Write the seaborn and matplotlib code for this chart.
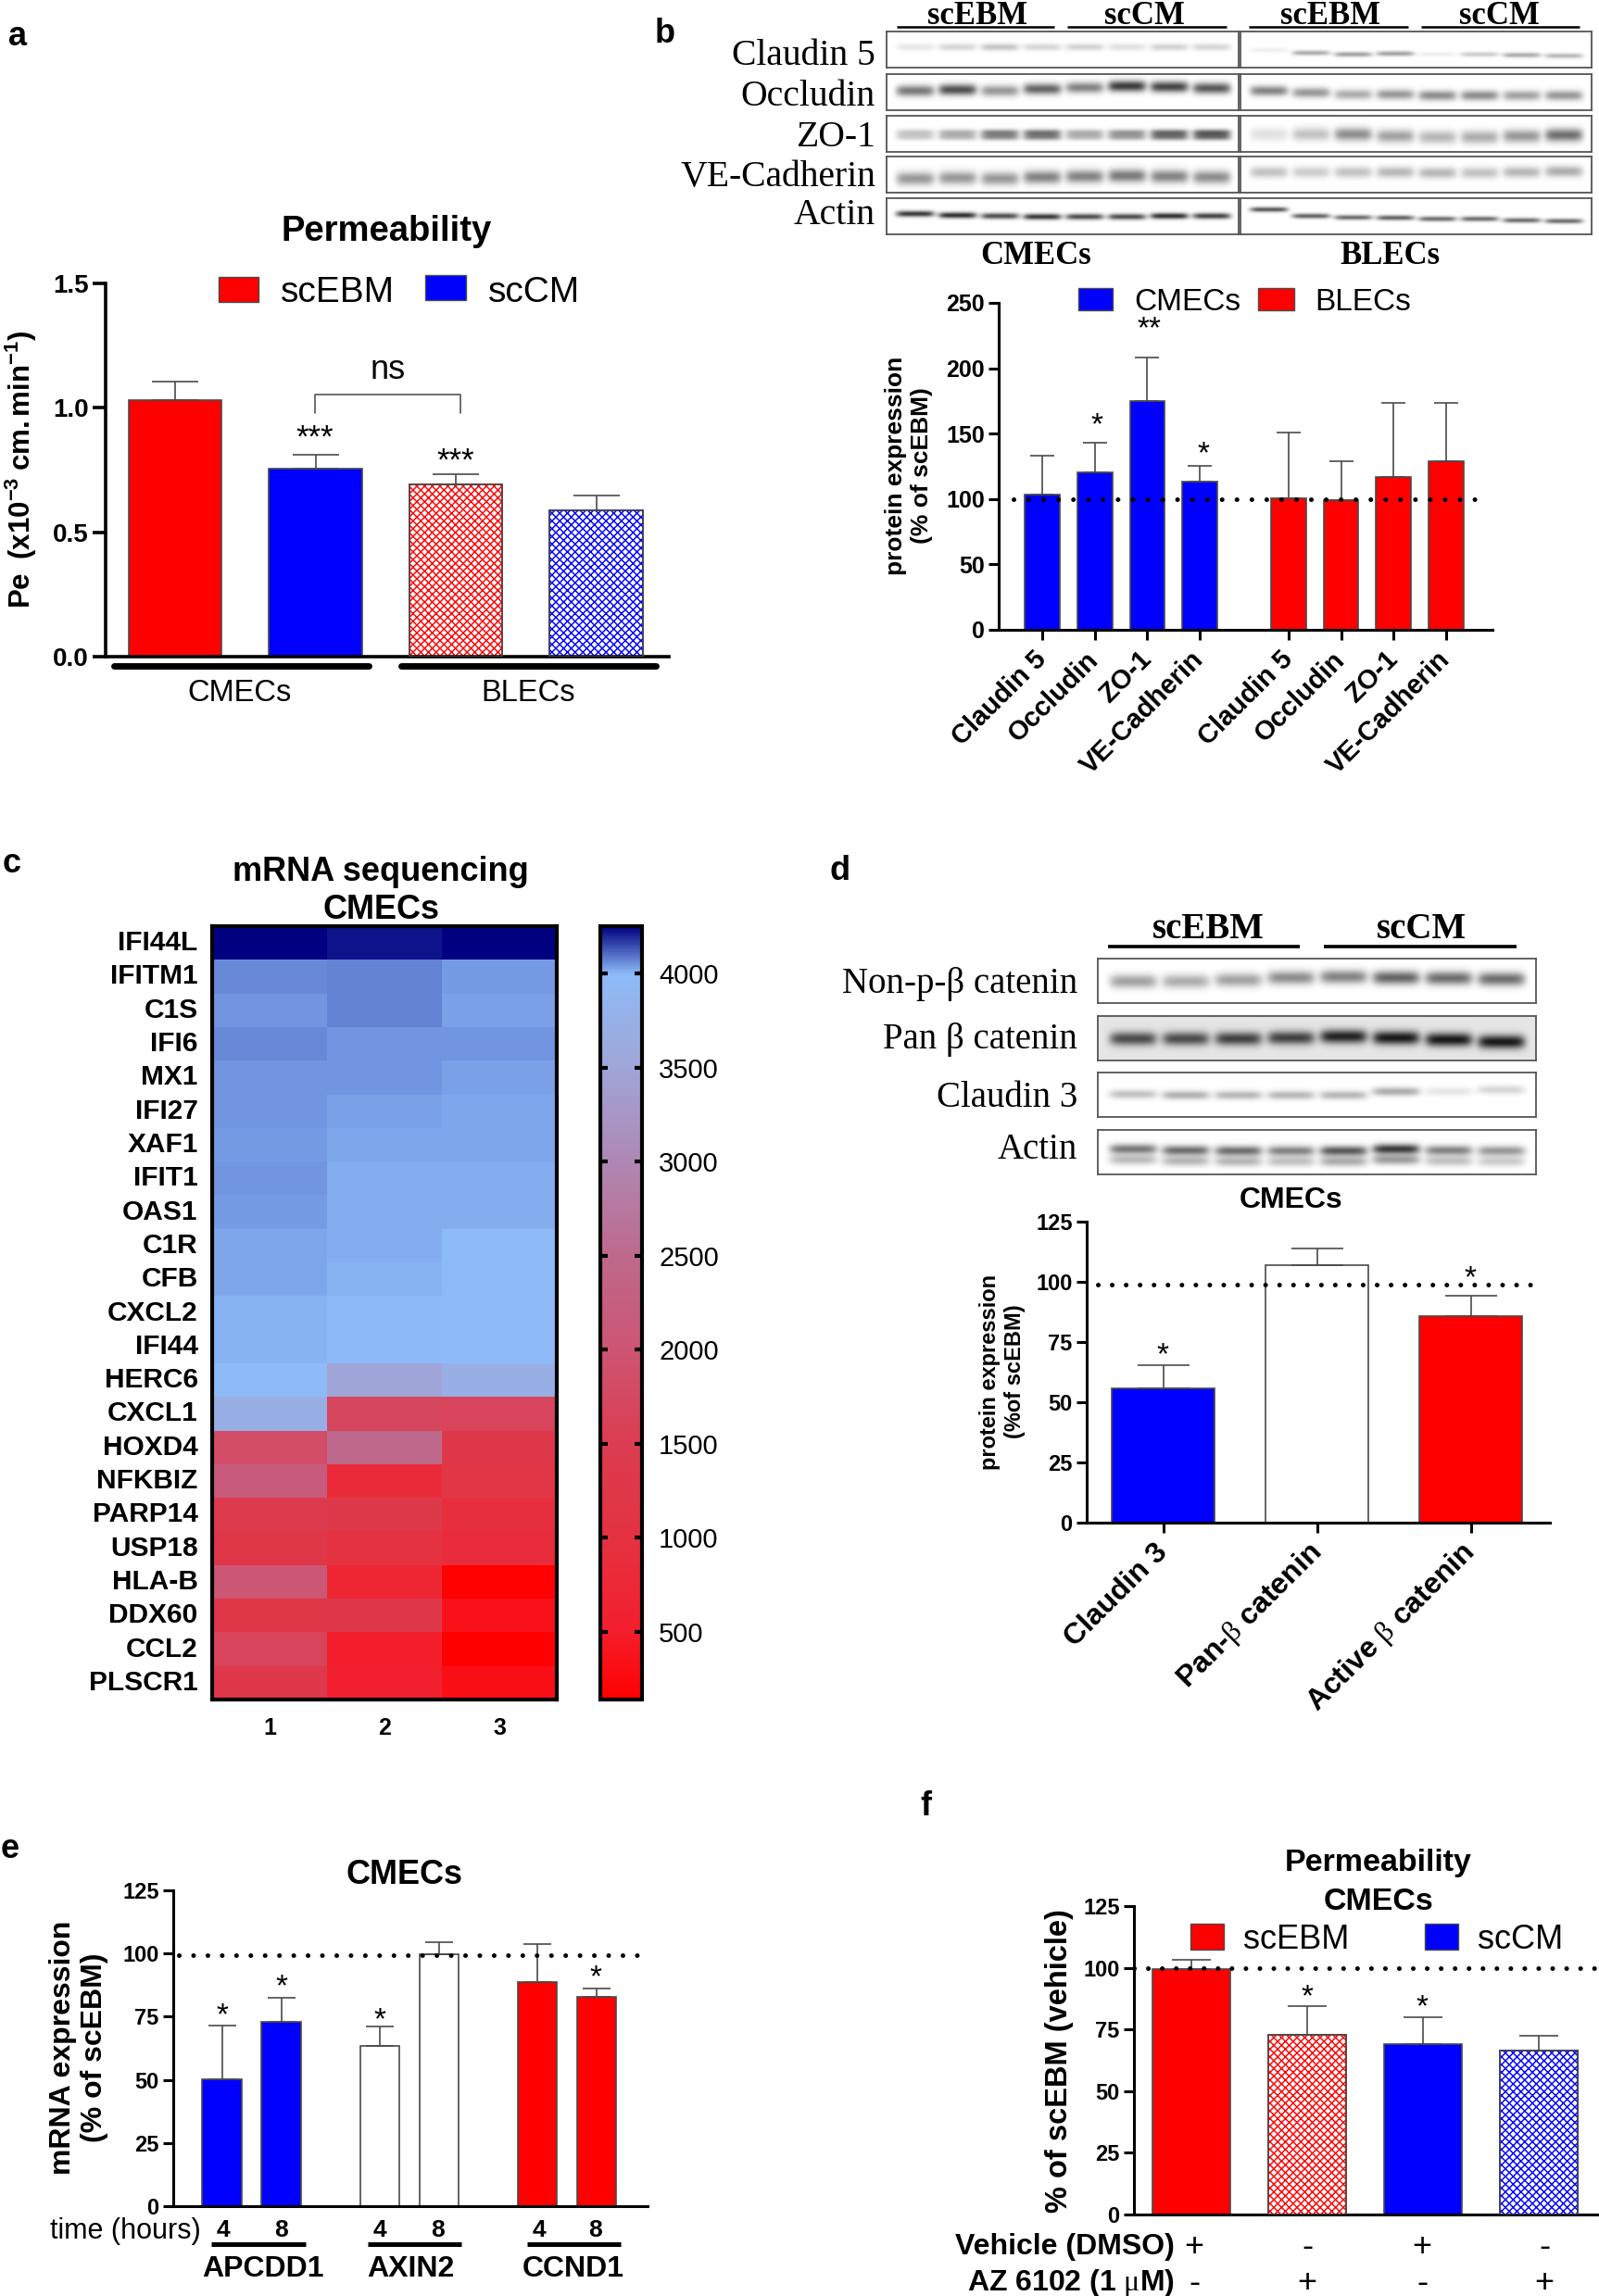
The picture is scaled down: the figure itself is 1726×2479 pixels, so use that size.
import numpy as np
import pandas as pd
import matplotlib.pyplot as plt
from matplotlib.colors import LinearSegmentedColormap
from matplotlib.patches import Rectangle
import seaborn as sns

W, H = 1726, 2479
RED, BLUE, WHITE = "#ff0000", "#0000ff", "#ffffff"
EDGE = "#4a4a4a"

# panel a
a_values = [1.03, 0.757, 0.693, 0.588]
a_errors = [0.075, 0.055, 0.041, 0.058]
a_ticks = [0.0, 0.5, 1.0, 1.5]

# panel b
b_labels = ["Claudin 5", "Occludin", "ZO-1", "VE-Cadherin"] * 2
b_values = [103.4, 120.5, 175, 113, 100.7, 99.5, 116.6, 129]
b_errors = [30, 22.5, 33, 12, 49.8, 29.5, 57.1, 44.7]
b_ticks = [0, 50, 100, 150, 200, 250]

# panel c
genes = ["IFI44L", "IFITM1", "C1S", "IFI6", "MX1", "IFI27", "XAF1", "IFIT1", "OAS1", "C1R", "CFB",
         "CXCL2", "IFI44", "HERC6", "CXCL1", "HOXD4", "NFKBIZ", "PARP14", "USP18", "HLA-B",
         "DDX60", "CCL2", "PLSCR1"]
sample_1 = [4250, 4065, 4050, 4065, 4045, 4050, 4040, 4045, 4040, 4025, 4025, 4005, 4005,
            3985, 3720, 1850, 2150, 1400, 1250, 2050, 1250, 1650, 1300]
sample_2 = [4220, 4070, 4075, 4045, 4050, 4030, 4020, 4015, 4015, 4015, 4010, 3995, 3995,
            3500, 1700, 2500, 800, 1350, 1000, 700, 1300, 500, 550]
sample_3 = [4250, 4040, 4030, 4050, 4035, 4025, 4020, 4015, 4015, 3990, 3990, 3985, 3985,
            3720, 1650, 1300, 1150, 900, 850, 150, 350, 140, 320]
c_ticks = [500, 1000, 1500, 2000, 2500, 3000, 3500, 4000]
c_scale_values = [139, 500, 1000, 1500, 2000, 2500, 3000, 3500, 4000, 4252]
c_scale_colors = ["#ff0000", "#f41e2c", "#e43241", "#dc3c50", "#cd5573", "#be698c",
                  "#af87b4", "#a0a5d7", "#8dbbf8", "#000080"]

# panel d
d_labels = ["Claudin 3", r"Pan-$\mathrm{\beta}$ catenin", r"Active $\mathrm{\beta}$ catenin"]
d_values = [55.7, 106.8, 85.9]
d_errors = [9.6, 7.2, 8.2]
d_ticks = [0, 25, 50, 75, 100, 125]

# panel e
e_hours = ["4", "8", "4", "8", "4", "8"]
e_genes = ["APCDD1", "AXIN2", "CCND1"]
e_values = [50.3, 72.9, 63.4, 99.8, 88.8, 82.8]
e_errors = [21.1, 9.4, 7.8, 4.7, 15.1, 3.5]

# panel f
f_values = [99.6, 72.8, 69.2, 66.5]
f_errors = [3.7, 11.7, 10.9, 5.8]
f_vehicle = ["+", "-", "+", "-"]
f_az6102 = ["-", "+", "-", "+"]

# western blots: band darkness and band height per lane
blot_b_rows = ["Claudin 5", "Occludin", "ZO-1", "VE-Cadherin", "Actin"]
blot_b_cmec = [[.12, .2, .28, .2, .22, .15, .22, .2],
               [.65, .85, .5, .75, .6, .95, .9, .8],
               [.25, .35, .55, .6, .35, .45, .65, .7],
               [.5, .5, .5, .6, .6, .65, .6, .55],
               [.95, 1, .85, .95, .85, .85, 1, .9]]
blot_b_blec = [[.08, .4, .45, .45, .08, .25, .4, .35],
               [.6, .5, .4, .5, .55, .55, .45, .5],
               [.15, .3, .55, .45, .35, .4, .5, .7],
               [.3, .25, .3, .35, .35, .3, .35, .4],
               [.8, .75, .7, .75, .7, .7, .7, .7]]
blot_b_cmec_y = [[.42] * 8, [.45, .42, .45, .4, .36, .32, .34, .38], [.45] * 8,
                 [.6, .58, .6, .56, .54, .52, .54, .56], [.42, .46, .48, .5, .5, .5, .48, .48]]
blot_b_blec_y = [[.5, .58, .62, .6, .62, .62, .64, .66], [.45, .5, .55, .55, .58, .58, .58, .58],
                 [.5, .5, .5, .55, .58, .58, .55, .52], [.42, .42, .42, .42, .44, .44, .42, .4],
                 [.3, .48, .52, .53, .56, .56, .6, .62]]
blot_d_rows = ["Non-p-β catenin", "Pan β catenin", "Claudin 3", "Actin"]
blot_d = [[.45, .4, .45, .55, .6, .75, .7, .7],
          [.75, .75, .8, .8, .95, 1, 1, 1],
          [.3, .38, .35, .35, .35, .4, .12, .2],
          [.65, .7, .7, .6, .8, .95, .6, .5]]
blot_d_y = [[.5, .5, .47, .42, .4, .42, .43, .45],
            [.5, .5, .5, .48, .45, .48, .52, .57],
            [.48, .5, .5, .5, .5, .42, .42, .38],
            [.42, .45, .46, .46, .46, .42, .45, .46]]

sns.set_style("white")
plt.rcParams["font.family"] = ["Liberation Sans", "DejaVu Sans"]
plt.rcParams["mathtext.fontset"] = "custom"
plt.rcParams["mathtext.rm"] = "Liberation Serif"
plt.rcParams["mathtext.it"] = "Liberation Serif:italic"
plt.rcParams["mathtext.bf"] = "Liberation Sans:bold"
plt.rcParams["hatch.linewidth"] = 1.05
plt.rcParams["text.color"] = "black"
plt.rcParams["xtick.color"] = "black"
plt.rcParams["ytick.color"] = "black"

fig = plt.figure(figsize=(W / 100, H / 100), dpi=100, facecolor="white")


def axes_px(left, top, right, bottom):
    return fig.add_axes([left / W, 1 - bottom / H, (right - left) / W, (bottom - top) / H])


def label(x, y, s, size, weight="normal", ha="center", family=None, rotation=0, shift=0.1, **kw):
    # y is where the glyphs should be centred, in pixels from the top
    y = y + shift * size * 100 / 72
    return fig.text(x / W, 1 - y / H, s, fontsize=size, fontweight=weight, ha=ha, va="center",
                    family=family or plt.rcParams["font.family"], rotation=rotation, **kw)


def star(x, y, s="*", size=24):
    label(x, y, s, size, shift=0.14)


def swatch(x0, y0, x1, y1, color):
    fig.add_artist(Rectangle((x0 / W, 1 - y1 / H), (x1 - x0) / W, (y1 - y0) / H, facecolor=color,
                             edgecolor=EDGE, linewidth=1, transform=fig.transFigure))


def rule(x0, x1, y, lw, color="black", cap="butt"):
    fig.add_artist(plt.Line2D([x0 / W, x1 / W], [1 - y / H, 1 - y / H], color=color, lw=lw,
                              solid_capstyle=cap, transform=fig.transFigure))


def bar_panel(box, first_px, unit_px, positions, values, errors, colors, ticks, cap,
              hatched=(), tick_size=18, spine=2.2, tick_len=8):
    left, top, right, bottom = box
    ax = axes_px(*box)
    positions = np.asarray(positions, dtype=float)
    df = pd.DataFrame({"pos": positions, "val": values, "bar": [str(i) for i in range(len(values))]})
    sns.barplot(data=df, x="pos", y="val", hue="bar", palette=dict(zip(df["bar"], colors)),
                native_scale=True, dodge=False, width=0.665, errorbar=None, legend=False,
                saturation=1, edgecolor=EDGE, linewidth=1.2, ax=ax)
    for i in hatched:
        bar = ax.containers[i][0]
        ax.add_patch(Rectangle(bar.get_xy(), bar.get_width(), bar.get_height(), fill=False,
                               edgecolor=EDGE, linewidth=1.2, zorder=3))
        bar.set_facecolor("white")
        bar.set_edgecolor(colors[i])
        bar.set_hatch("xxxx")
    ax.errorbar(positions, values, yerr=[np.zeros(len(values)), errors], fmt="none", ecolor=EDGE,
                elinewidth=1.2, capsize=cap, capthick=1.2, zorder=1)
    ax.set_xlim((left - first_px) / unit_px, (right - first_px) / unit_px)
    ax.set_ylim(ticks[0], ticks[-1])
    ax.set_yticks(ticks)
    ax.set_xlabel("")
    ax.set_ylabel("")
    ax.patch.set_alpha(0)
    for side in ("top", "right"):
        ax.spines[side].set_visible(False)
    for side in ("left", "bottom"):
        ax.spines[side].set_linewidth(spine)
        ax.spines[side].set_color("black")
    ax.tick_params(axis="y", left=True, length=tick_len, width=spine, labelsize=tick_size, pad=3)
    ax.set_xticks([])
    for tick in ax.get_yticklabels():
        tick.set_fontweight("bold")
    return ax, positions


def dotted(ax, x0_px, x1_px, first_px, unit_px, y, spacing_px):
    # round dots spaced along a reference line
    lw = 3.6
    ax.plot([(x0_px - first_px) / unit_px, (x1_px - first_px) / unit_px], [y, y], color="black", lw=lw,
            ls=(0, (0.01, spacing_px * 0.72 / lw)), dash_capstyle="round", clip_on=False, zorder=5)


def slanted_ticks(ax, positions, labels, size, tick_len=8, spine=2.2, pad=12):
    ax.set_xticks(positions)
    ax.set_xticklabels(labels, rotation=45, ha="right", va="center", rotation_mode="anchor",
                       fontsize=size, fontweight="bold")
    ax.tick_params(axis="x", bottom=True, length=tick_len, width=spine, pad=pad)


def draw_blot(box, strengths, centres, sigma=0.1, background=0.0, second=None):
    left, top, right, bottom = box
    ax = axes_px(*box)
    rows, cols = int(bottom - top), int(right - left)
    yy, xx = np.mgrid[0:rows, 0:cols]
    yy = yy / rows
    xx = xx / cols
    lane = 0.96 / len(strengths)
    image = np.full((rows, cols), background, dtype=float)
    for i, (s, c) in enumerate(zip(strengths, centres)):
        mask = np.exp(-(((xx - 0.02 - lane * (i + 0.5)) / (0.45 * lane)) ** 6))
        image += s * np.exp(-0.5 * ((yy - c) / sigma) ** 2) * mask * 0.8
        if second:
            image += s * second[1] * np.exp(-0.5 * ((yy - c - second[0]) / sigma) ** 2) * mask * 0.8
    ax.imshow(image, cmap="gray_r", vmin=0, vmax=1, aspect="auto", interpolation="bilinear")
    ax.set_xticks([])
    ax.set_yticks([])
    for s in ax.spines.values():
        s.set_visible(True)
        s.set_color("#555555")
        s.set_linewidth(1.3)


# panel letters
for letter, x, y in [("a", 19, 38), ("b", 718, 35), ("c", 13, 931), ("d", 907, 939), ("e", 11, 1995), ("f", 999, 1949)]:
    label(x, y, letter, 26, "bold", shift=0.05)

# a: permeability
ax_a, pos = bar_panel((114, 306, 722, 709), 189, 151.5, range(4), a_values, a_errors,
                      [RED, BLUE, RED, BLUE], a_ticks, 18, hatched=(2, 3), tick_size=20, spine=2.6, tick_len=10)
label(417, 246, "Permeability", 27.5, "bold")
label(23, 507, r"$\mathbf{Pe\ \ (x10^{-3}\ cm.min^{-1})}$", 22.5, rotation=90, shift=0)
swatch(236, 299, 279, 326, RED)
label(303, 312, "scEBM", 28, ha="left")
swatch(459, 297, 503, 324, BLUE)
label(527, 312, "scCM", 28, ha="left")
star(340, 468, "***", 25)
star(492, 493, "***", 25)
for x0, x1, mid, name in [(123, 398, 258, "CMECs"), (433, 708, 570, "BLECs")]:
    rule(x0, x1, 719, 5, cap="round")
    label(mid, 745, name, 23.5)
fig.add_artist(plt.Line2D(np.array([340, 340, 497, 497]) / W, 1 - np.array([446, 426, 426, 446]) / H,
                          color="#555555", lw=1.2, transform=fig.transFigure))
label(419, 396, "ns", 26)

# b: blots
blot_tops = [34, 80, 125, 169, 214]
blot_label_y = [61, 104, 149, 192, 233]
for i, name in enumerate(blot_b_rows):
    sig = [.07, .11, .13, .13, .06][i]
    sig_b = [.05, .1, .13, .11, .05][i]
    second = (0.13, 0.9) if i == 2 else None
    draw_blot((957, blot_tops[i], 1337, blot_tops[i] + 39), blot_b_cmec[i], blot_b_cmec_y[i],
              sig / (1 + (i == 2)), second=second)
    draw_blot((1339, blot_tops[i], 1718, blot_tops[i] + 39), blot_b_blec[i], blot_b_blec_y[i], sig_b)
    label(945, blot_label_y[i], name, 28.5, ha="right", family="Liberation Serif", shift=0)
for x0, x1, mid, name in [(968, 1138, 1055, "scEBM"), (1152, 1324, 1235, "scCM"),
                          (1348, 1520, 1436, "scEBM"), (1534, 1705, 1618, "scCM")]:
    rule(x0, x1, 29, 1.8)
    label(mid, 14, name, 25, "bold", family="Liberation Serif")
label(1118, 273, "CMECs", 25, "bold", family="Liberation Serif")
label(1500, 273, "BLECs", 25, "bold", family="Liberation Serif")

# b: protein expression
b_first, b_unit = 1125, 56.7
b_pos = [0, 1, 2, 3, 4.69, 5.69, 6.69, 7.69]
ax_b, pos = bar_panel((1078, 327, 1611, 680), b_first, b_unit, b_pos, b_values, b_errors,
                      [BLUE] * 4 + [RED] * 4, b_ticks, 9.5, tick_size=18, tick_len=8)
slanted_ticks(ax_b, pos, b_labels, 21)
dotted(ax_b, 1094, 1602, b_first, b_unit, 100, 16)
label(981, 503, "protein expression\n(% of scEBM)", 19, "bold", rotation=90, shift=0, multialignment="center")
star(1184, 455)
star(1240, 351, "**")
star(1299, 486)
swatch(1164, 311, 1201, 335, BLUE)
label(1224, 323, "CMECs", 24, ha="left")
swatch(1358, 311, 1397, 335, RED)
label(1419, 323, "BLECs", 24, ha="left")

# c: heatmap
heat = pd.DataFrame({"1": sample_1, "2": sample_2, "3": sample_3}, index=genes)
c_low, c_high = c_scale_values[0], c_scale_values[-1]
cmap = LinearSegmentedColormap.from_list(
    "red_blue", [((v - c_low) / (c_high - c_low), c) for v, c in zip(c_scale_values, c_scale_colors)], N=512)
ax_c = axes_px(229, 1000, 601, 1835)
cax = axes_px(648, 1000, 693, 1835)
sns.heatmap(heat, ax=ax_c, cbar_ax=cax, cmap=cmap, vmin=c_low, vmax=c_high, linewidths=0)
ax_c.tick_params(axis="both", length=0)
ax_c.tick_params(axis="y", labelsize=21.5, pad=11, labelrotation=0)
ax_c.tick_params(axis="x", labelsize=18, pad=14, labelrotation=0)
for tick in ax_c.get_xticklabels() + ax_c.get_yticklabels():
    tick.set_fontweight("bold")
for s in ax_c.spines.values():
    s.set_visible(True)
    s.set_linewidth(3)
    s.set_color("black")
cbar = ax_c.collections[0].colorbar
cbar.set_ticks(c_ticks)
cbar.outline.set_linewidth(3)
cbar.outline.set_edgecolor("black")
cax.set_axisbelow(False)
cax.tick_params(axis="y", direction="in", left=True, right=True, length=6, width=3, labelsize=21, pad=13, color="black")
label(411, 938, "mRNA sequencing", 26, "bold")
label(411, 979, "CMECs", 26, "bold")

# d: blots
d_tops = [1035, 1097, 1158, 1220]
for i, name in enumerate(blot_d_rows):
    second = (0.24, 0.5) if i == 3 else None
    bg = 0.1 if i == 1 else 0.0
    draw_blot((1185, d_tops[i], 1658, d_tops[i] + 48), blot_d[i], blot_d_y[i], [.11, .11, .07, .08][i], bg, second)
    label(1163, [1059, 1119, 1182, 1238][i], name, 28, ha="right", family="Liberation Serif")
rule(1196, 1403, 1022, 2.6)
rule(1429, 1637, 1022, 2.6)
label(1304, 1000, "scEBM", 28, "bold", family="Liberation Serif")
label(1534, 1000, "scCM", 28, "bold", family="Liberation Serif")

# d: protein expression
d_first, d_unit = 1255.5, 166
ax_d, pos = bar_panel((1173, 1319, 1673, 1644), d_first, d_unit, range(3), d_values, d_errors,
                      [BLUE, WHITE, RED], d_ticks, 20, tick_size=17)
slanted_ticks(ax_d, pos, d_labels, 23)
dotted(ax_d, 1185, 1665, d_first, d_unit, 99, 15)
label(1394, 1293, "CMECs", 23, "bold", shift=0.1)
label(1082, 1481, "protein expression\n(%of scEBM)", 17, "bold", rotation=90, shift=0, multialignment="center")
star(1255, 1459)
star(1587, 1376)

# e: mRNA expression
e_first, e_unit = 239.7, 64
e_pos = [0, 1, 2.66, 3.66, 5.32, 6.32]
ax_e, pos = bar_panel((187, 2041, 699, 2382), e_first, e_unit, e_pos, e_values, e_errors,
                      [BLUE, BLUE, WHITE, WHITE, RED, RED], d_ticks, 11, tick_size=17)
dotted(ax_e, 193, 702, e_first, e_unit, 99.5, 15.4)
label(436, 2021, "CMECs", 26, "bold")
label(85, 2211, "mRNA expression\n(% of scEBM)", 23, "bold", rotation=90, shift=0, multialignment="center")
label(217, 2409, "time (hours)", 22, ha="right", shift=0)
for x, hour in zip([241, 303, 410, 472, 582, 643], e_hours):
    label(x, 2405, hour, 19, "bold")
for x0, x1, mid, name in zip([228, 397, 569], [330, 498, 670], [284, 443, 619], e_genes):
    rule(x0, x1, 2423, 3.6)
    label(mid, 2447, name, 23, "bold")
star(240, 2172)
star(304, 2141)
star(410, 2177)
star(643, 2131)

# f: permeability with inhibitor
f_first, f_unit = 1286, 125
ax_f, pos = bar_panel((1224, 2058, 1726, 2391), f_first, f_unit, range(4), f_values, f_errors,
                      [RED, RED, BLUE, BLUE], d_ticks, 15, hatched=(1, 3), tick_size=17)
dotted(ax_f, 1224, 1726, f_first, f_unit, 100, 15)
label(1488, 2008, "Permeability", 24.5, "bold")
label(1488, 2050, "CMECs", 24.5, "bold")
label(1143, 2225, "% of scEBM (vehicle)", 23.5, "bold", rotation=90, shift=0)
swatch(1285, 2077, 1321, 2105, RED)
label(1342, 2091, "scEBM", 26, ha="left")
swatch(1538, 2077, 1574, 2105, BLUE)
label(1595, 2091, "scCM", 26, ha="left")
star(1411, 2152)
star(1535, 2163)
label(1268, 2423, "Vehicle (DMSO)", 23, "bold", ha="right")
label(1268, 2462, r"AZ 6102 (1 $\mathrm{\mu}$M)", 23, "bold", ha="right")
for row_y, row in [(2423, f_vehicle), (2462, f_az6102)]:
    for x, mark in zip([1289, 1411, 1535, 1667], row):
        label(x, row_y, mark, 26)

fig.savefig("out.png", dpi=100, facecolor="white")
